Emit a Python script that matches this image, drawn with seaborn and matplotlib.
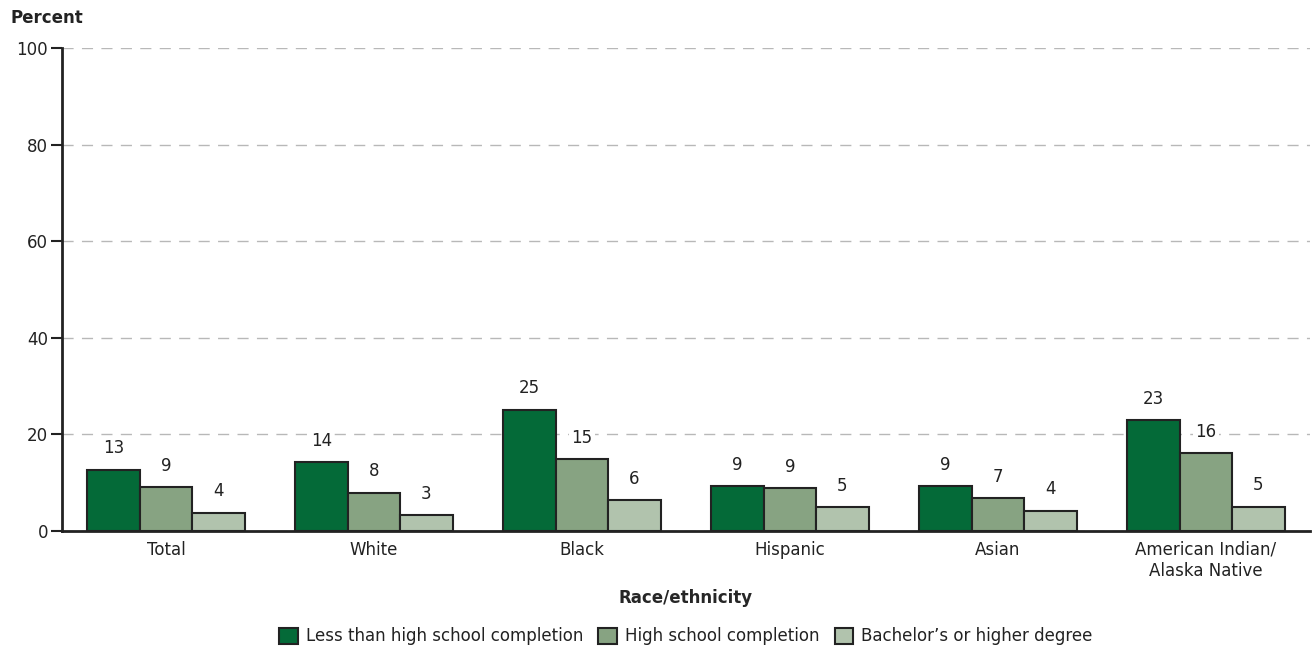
import matplotlib
matplotlib.use("Agg")
import matplotlib.pyplot as plt
import seaborn as sns
import pandas as pd

categories = ["Total", "White", "Black", "Hispanic", "Asian", "American Indian/\nAlaska Native"]
series = ["Less than high school completion", "High school completion", "Bachelor\u2019s or higher degree"]
less_than_hs = [12.7, 14.2, 25.1, 9.3, 9.3, 22.9]
hs_completion = [9.1, 7.9, 14.9, 8.8, 6.8, 16.1]
bachelors = [3.8, 3.3, 6.4, 4.9, 4.2, 5.0]
labels_less = [13, 14, 25, 9, 9, 23]
labels_hs = [9, 8, 15, 9, 7, 16]
labels_ba = [4, 3, 6, 5, 4, 5]
colors = ["#046a38", "#87a382", "#b1c3ad"]

rows = []
for s, vals in zip(series, [less_than_hs, hs_completion, bachelors]):
    for c, v in zip(categories, vals):
        rows.append({"Race": c, "Level": s, "Percent": v})
df = pd.DataFrame(rows)

sns.set_style("white")
plt.rcParams["font.family"] = ["DejaVu Sans"]
plt.rcParams["text.color"] = "#222222"
plt.rcParams["xtick.color"] = "#222222"
plt.rcParams["ytick.color"] = "#222222"

fig = plt.figure(figsize=(13.12, 6.53), dpi=100)
ax = fig.add_axes([62 / 1312, 122 / 653, 1248 / 1312, 483 / 653])

sns.barplot(data=df, x="Race", y="Percent", hue="Level", order=categories,
            hue_order=series, palette=colors, width=0.755, gap=0,
            edgecolor="#222222", linewidth=1.5, saturation=1, ax=ax, zorder=3)

for cont, labs in zip(ax.containers, [labels_less, labels_hs, labels_ba]):
    ax.bar_label(cont, labels=[str(l) for l in labs], padding=9, fontsize=12,
                 color="#222222",
                 bbox=dict(facecolor="white", edgecolor="none", pad=1.5))

ax.set_ylim(0, 100)
ax.set_xlim(-0.5, 5.5)
ax.set_yticks([0, 20, 40, 60, 80, 100])
ax.tick_params(axis="y", direction="out", length=8, width=1.5, color="#222222",
               labelsize=12, pad=2, left=True)
ax.tick_params(axis="x", length=0, labelsize=12, pad=7)
ax.yaxis.grid(True, linestyle=(0, (8, 6)), color="#b8b8b8", linewidth=1, zorder=0)
ax.set_axisbelow(True)
for side in ["top", "right"]:
    ax.spines[side].set_visible(False)
for side in ["left", "bottom"]:
    ax.spines[side].set_color("#222222")
    ax.spines[side].set_linewidth(2)

ax.set_ylabel("")
ax.set_xlabel("Race/ethnicity", fontsize=12, fontweight="bold", labelpad=7)
fig.text(10 / 1312, 1 - 18 / 653, "Percent", fontsize=12, fontweight="bold",
         va="center", ha="left")

ax.legend(loc="center", bbox_to_anchor=(0.5, -0.218), ncol=3, frameon=False,
          fontsize=12, handlelength=1.1, handleheight=1.1, handletextpad=0.5,
          columnspacing=0.9)
for h in ax.get_legend().legend_handles:
    h.set_edgecolor("#222222")
    h.set_linewidth(1.5)

fig.savefig("out.png", dpi=100)
